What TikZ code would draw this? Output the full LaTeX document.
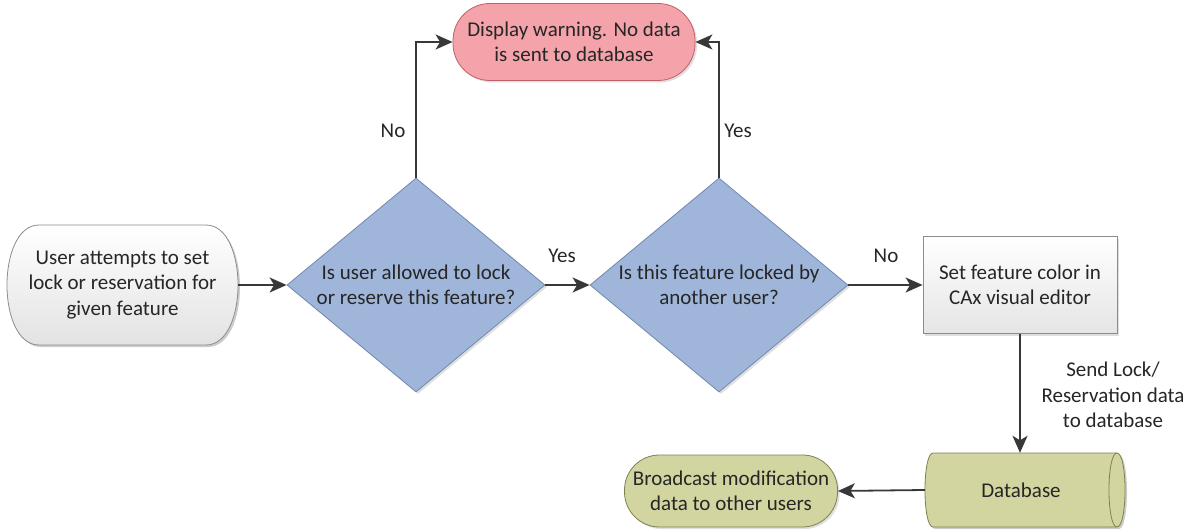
\documentclass[tikz,border=0pt]{standalone}
\usepackage{fontspec}
\setmainfont{Carlito}
\usetikzlibrary{shapes.geometric,shapes.misc,arrows.meta,shadows}
\definecolor{txt}{HTML}{262626}
\definecolor{linec}{HTML}{383838}
\definecolor{startfill}{HTML}{F4F4F4}
\definecolor{startdraw}{HTML}{8C8C8C}
\definecolor{decfill}{HTML}{9FB6DA}
\definecolor{decdraw}{HTML}{7088B0}
\definecolor{warnfill}{HTML}{F4A3AA}
\definecolor{warndraw}{HTML}{C0606A}
\definecolor{boxfill}{HTML}{F0F0F0}
\definecolor{boxdraw}{HTML}{8C8C8C}
\definecolor{olivefill}{HTML}{D2D5A0}
\definecolor{olivedraw}{HTML}{7E8050}
\tikzset{
  base/.style={align=center, text=txt, line width=0.8pt,
    drop shadow={opacity=0.25, shadow xshift=2pt, shadow yshift=-2pt}},
  plaintext/.style={align=center, text=txt, rectangle},
  startshape/.style={draw=startdraw, line width=0.8pt, top color=white, bottom color=startfill!85!gray},
  decision/.style={base, diamond, aspect=1.2, draw=decdraw, fill=decfill, inner sep=0pt,
    minimum width=258pt, minimum height=214pt},
  warnbox/.style={base, rectangle, rounded corners=37pt, draw=warndraw,
    fill=warnfill, minimum width=242pt, minimum height=77pt},
  procbox/.style={base, rectangle, draw=boxdraw, top color=white, bottom color=boxfill!90!gray,
    minimum width=194pt, minimum height=97pt},
  cylbody/.style={draw=olivedraw, fill=olivefill, line width=0.8pt},
  shadowfill/.style={fill=black, opacity=0.2},
  termbox/.style={base, rectangle, rounded corners=35pt, draw=olivedraw,
    fill=olivefill, minimum width=213pt, minimum height=72pt},
  arr/.style={draw=linec, line width=1.8pt, -{Stealth[length=17pt,width=15pt,inset=4.5pt]}},
  lbl/.style={text=txt, align=center}
}
\begin{document}
\begin{tikzpicture}[x=1pt, y=-1pt, font=\fontsize{21}{25.5}\selectfont]
\useasboundingbox (0,0) rectangle (1197,532);

% start terminator: flat top and bottom, elliptic ends
\path[shadowfill] (41,227) -- (208,227) .. controls (250.7,227) and (250.7,347) .. (208,347)
  -- (41,347) .. controls (-1.7,347) and (-1.7,227) .. (41,227) -- cycle;
\path[startshape] (39,225) -- (206,225) .. controls (248.7,225) and (248.7,345) .. (206,345)
  -- (39,345) .. controls (-3.7,345) and (-3.7,225) .. (39,225) -- cycle;
\node[plaintext, minimum width=231pt, minimum height=120pt] (start) at (122.5,285)
  {User attempts to set\\lock or reservation for\\given feature};

\node[decision] (allowed) at (416,285) {Is user allowed to lock\\or reserve this feature?};
\node[decision] (locked) at (719,285) {Is this feature locked by\\another user?};
\node[warnbox] (warn) at (574,42) {Display warning. No data\\is sent to database};
\node[procbox] (setcolor) at (1020,285) {Set feature color in\\CAx visual editor};
\node[termbox] (bcast) at (731,491) {Broadcast modification\\data to other users};

% database drum: shadow, body with left end, visible right end
\path[shadowfill] (935,455) -- (1119,455) .. controls (1129.7,455) and (1129.7,529) .. (1119,529)
  -- (935,529) .. controls (924.3,529) and (924.3,455) .. (935,455) -- cycle;
\path[cylbody] (933,453) -- (1117,453) .. controls (1127.7,453) and (1127.7,527) .. (1117,527)
  -- (933,527) .. controls (922.3,527) and (922.3,453) .. (933,453) -- cycle;
\draw[olivedraw, line width=0.8pt] (1117,453) .. controls (1106.3,453) and (1106.3,527) .. (1117,527);
\node[plaintext, minimum width=192pt, minimum height=74pt] (db) at (1021,490) {Database};

\draw[arr] (start.east) -- (allowed.west);
\draw[arr] (allowed.east) -- (locked.west);
\draw[arr] (locked.east) -- (setcolor.west);
\draw[arr] (allowed.north) |- (warn.west);
\draw[arr] (locked.north) |- (warn.east);
\draw[arr] (setcolor.south) -- (setcolor.south |- db.north);
\draw[arr] (db.west) -- (bcast.east);

\node[lbl] (noA) at (393,131) {No};
\node[lbl] (yesA) at (738,131) {Yes};
\node[lbl] (yesB) at (562,256) {Yes};
\node[lbl] (noB) at (886,256) {No};
\node[lbl] (send) at (1113,395) {Send Lock/\\Reservation data\\to database};
\end{tikzpicture}
\end{document}
